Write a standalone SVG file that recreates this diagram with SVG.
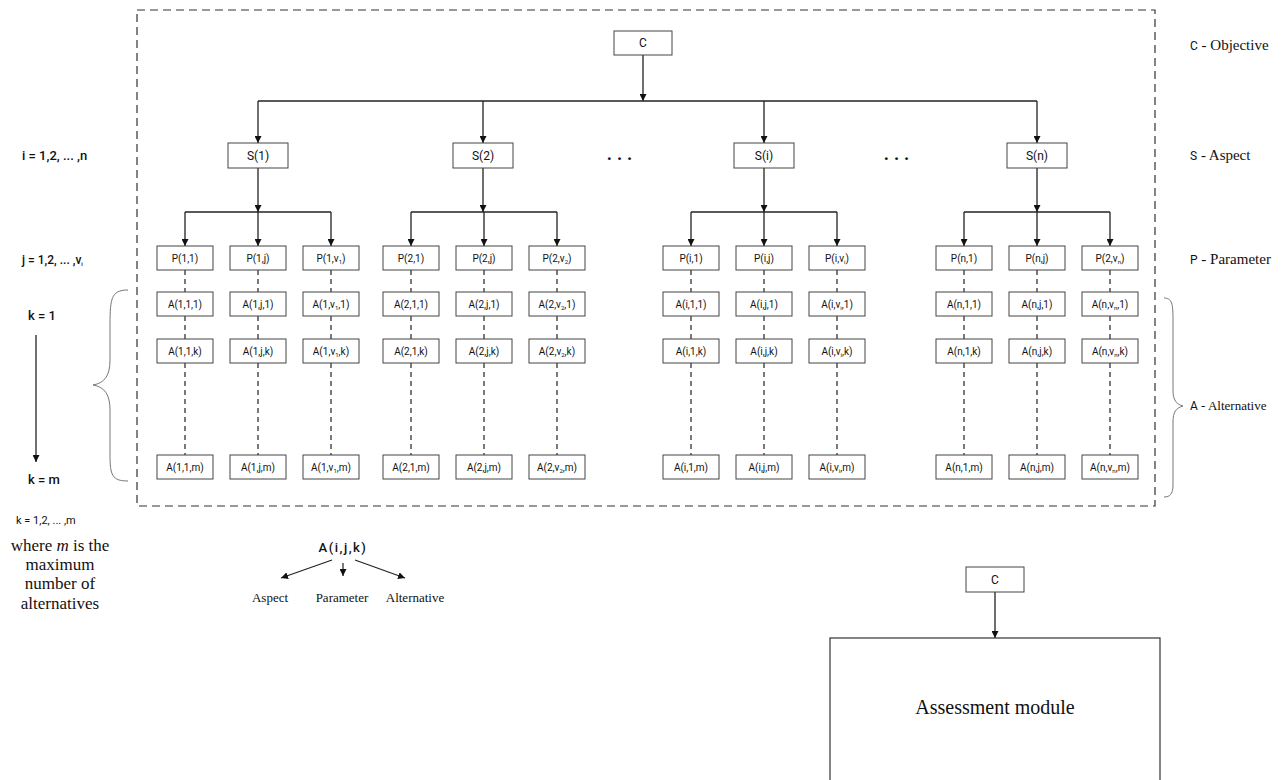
<svg xmlns="http://www.w3.org/2000/svg" width="1285" height="780" viewBox="0 0 1285 780">
<defs>
<marker id="ah" viewBox="0 0 10 10" refX="10" refY="5" markerWidth="7" markerHeight="7" markerUnits="userSpaceOnUse" orient="auto">
<path d="M0,0 L10,5 L0,10 z" fill="#111"/>
</marker>
<style>
.box{fill:#fff;stroke:#444;stroke-width:1}
.bt{font-family:Roboto,"DejaVu Sans",sans-serif;font-size:10px;fill:#111;text-anchor:middle}
.st{font-family:Roboto,"DejaVu Sans",sans-serif;font-size:12px;fill:#111;text-anchor:middle}
.ln{stroke:#222;stroke-width:1.3;fill:none}
.arr{stroke:#222;stroke-width:1.3;fill:none;marker-end:url(#ah)}
.dl{stroke:#222;stroke-width:1.2;stroke-dasharray:5,4;fill:none}
.sf{font-family:"Liberation Serif","Times New Roman",serif;fill:#111}
.sn{font-family:Roboto,"DejaVu Sans",sans-serif;fill:#111}
.sub{font-size:6px}
</style>
</defs>
<rect width="1285" height="780" fill="#fff"/>
<rect x="137" y="10" width="1018" height="496" fill="none" stroke="#333" stroke-width="1.2" stroke-dasharray="8,5"/>

<g id="connectors">
<line class="arr" x1="643" y1="55" x2="643" y2="101"/>
<line class="ln" x1="258" y1="101" x2="1037" y2="101"/>
<line class="arr" x1="258" y1="101" x2="258" y2="143"/>
<line class="arr" x1="483" y1="101" x2="483" y2="143"/>
<line class="arr" x1="764" y1="101" x2="764" y2="143"/>
<line class="arr" x1="1037" y1="101" x2="1037" y2="143"/>
<line class="arr" x1="258" y1="168" x2="258" y2="212"/>
<line class="arr" x1="483" y1="168" x2="483" y2="212"/>
<line class="arr" x1="764" y1="168" x2="764" y2="212"/>
<line class="arr" x1="1037" y1="168" x2="1037" y2="212"/>
<line class="ln" x1="185" y1="212" x2="331" y2="212"/>
<line class="ln" x1="411" y1="212" x2="557" y2="212"/>
<line class="ln" x1="691" y1="212" x2="837" y2="212"/>
<line class="ln" x1="964" y1="212" x2="1110" y2="212"/>
<g>
<line class="arr" x1="185" y1="212" x2="185" y2="246"/><line class="arr" x1="258" y1="212" x2="258" y2="246"/><line class="arr" x1="331" y1="212" x2="331" y2="246"/>
<line class="arr" x1="411" y1="212" x2="411" y2="246"/><line class="arr" x1="484" y1="212" x2="484" y2="246"/><line class="arr" x1="557" y1="212" x2="557" y2="246"/>
<line class="arr" x1="691" y1="212" x2="691" y2="246"/><line class="arr" x1="764" y1="212" x2="764" y2="246"/><line class="arr" x1="837" y1="212" x2="837" y2="246"/>
<line class="arr" x1="964" y1="212" x2="964" y2="246"/><line class="arr" x1="1037" y1="212" x2="1037" y2="246"/><line class="arr" x1="1110" y1="212" x2="1110" y2="246"/>
</g>
<g>
<path class="dl" d="M185,270V292M185,316V339M185,363V455"/>
<path class="dl" d="M258,270V292M258,316V339M258,363V455"/>
<path class="dl" d="M331,270V292M331,316V339M331,363V455"/>
<path class="dl" d="M411,270V292M411,316V339M411,363V455"/>
<path class="dl" d="M484,270V292M484,316V339M484,363V455"/>
<path class="dl" d="M557,270V292M557,316V339M557,363V455"/>
<path class="dl" d="M691,270V292M691,316V339M691,363V455"/>
<path class="dl" d="M764,270V292M764,316V339M764,363V455"/>
<path class="dl" d="M837,270V292M837,316V339M837,363V455"/>
<path class="dl" d="M964,270V292M964,316V339M964,363V455"/>
<path class="dl" d="M1037,270V292M1037,316V339M1037,363V455"/>
<path class="dl" d="M1110,270V292M1110,316V339M1110,363V455"/>
</g>
<line class="arr" x1="995" y1="592" x2="995" y2="638"/>
<line x1="36" y1="335" x2="36" y2="462" stroke="#111" stroke-width="1.2" marker-end="url(#ah)"/>
<line x1="332" y1="560" x2="281" y2="578" stroke="#222" stroke-width="1.2" marker-end="url(#ah)"/>
<line x1="343" y1="563" x2="343" y2="576" stroke="#222" stroke-width="1.2" marker-end="url(#ah)"/>
<line x1="355" y1="560" x2="405" y2="578" stroke="#222" stroke-width="1.2" marker-end="url(#ah)"/>
</g>

<g id="C"><rect class="box" x="614" y="31" width="58" height="24"/><text class="st" x="643" y="47">C</text></g>

<g id="S1"><rect class="box" x="228" y="143" width="60" height="25"/><text class="st" x="258" y="160">S(1)</text></g>
<g id="S2"><rect class="box" x="453" y="143" width="60" height="25"/><text class="st" x="483" y="160">S(2)</text></g>
<g id="Si"><rect class="box" x="734" y="143" width="60" height="25"/><text class="st" x="764" y="160">S(i)</text></g>
<g id="Sn"><rect class="box" x="1007" y="143" width="60" height="25"/><text class="st" x="1037" y="160">S(n)</text></g>
<text class="sn" x="622" y="160" font-size="18" font-weight="bold" text-anchor="middle" letter-spacing="5">...</text>
<text class="sn" x="899" y="160" font-size="18" font-weight="bold" text-anchor="middle" letter-spacing="5">...</text>

<!-- group 1 -->
<g id="P11"><rect class="box" x="157" y="246" width="56" height="24"/><text class="bt" x="185" y="262">P(1,1)</text></g>
<g id="P1j"><rect class="box" x="230" y="246" width="56" height="24"/><text class="bt" x="258" y="262">P(1,j)</text></g>
<g id="P1v"><rect class="box" x="303" y="246" width="56" height="24"/><text class="bt" x="331" y="262">P(1,v<tspan class="sub" dy="2">1</tspan><tspan dy="-2">)</tspan></text></g>
<g id="A111"><rect class="box" x="157" y="292" width="56" height="24"/><text class="bt" x="185" y="308">A(1,1,1)</text></g>
<g id="A1j1"><rect class="box" x="230" y="292" width="56" height="24"/><text class="bt" x="258" y="308">A(1,j,1)</text></g>
<g id="A1v1"><rect class="box" x="303" y="292" width="56" height="24"/><text class="bt" x="331" y="308">A(1,v<tspan class="sub" dy="2">1</tspan><tspan dy="-2">,1)</tspan></text></g>
<g id="A11k"><rect class="box" x="157" y="339" width="56" height="24"/><text class="bt" x="185" y="355">A(1,1,k)</text></g>
<g id="A1jk"><rect class="box" x="230" y="339" width="56" height="24"/><text class="bt" x="258" y="355">A(1,j,k)</text></g>
<g id="A1vk"><rect class="box" x="303" y="339" width="56" height="24"/><text class="bt" x="331" y="355">A(1,v<tspan class="sub" dy="2">1</tspan><tspan dy="-2">,k)</tspan></text></g>
<g id="A11m"><rect class="box" x="157" y="455" width="56" height="24"/><text class="bt" x="185" y="471">A(1,1,m)</text></g>
<g id="A1jm"><rect class="box" x="230" y="455" width="56" height="24"/><text class="bt" x="258" y="471">A(1,j,m)</text></g>
<g id="A1vm"><rect class="box" x="303" y="455" width="56" height="24"/><text class="bt" x="331" y="471">A(1,v<tspan class="sub" dy="2">1</tspan><tspan dy="-2">,m)</tspan></text></g>

<!-- group 2 -->
<g id="P21"><rect class="box" x="383" y="246" width="56" height="24"/><text class="bt" x="411" y="262">P(2,1)</text></g>
<g id="P2j"><rect class="box" x="456" y="246" width="56" height="24"/><text class="bt" x="484" y="262">P(2,j)</text></g>
<g id="P2v"><rect class="box" x="529" y="246" width="56" height="24"/><text class="bt" x="557" y="262">P(2,v<tspan class="sub" dy="2">2</tspan><tspan dy="-2">)</tspan></text></g>
<g id="A211"><rect class="box" x="383" y="292" width="56" height="24"/><text class="bt" x="411" y="308">A(2,1,1)</text></g>
<g id="A2j1"><rect class="box" x="456" y="292" width="56" height="24"/><text class="bt" x="484" y="308">A(2,j,1)</text></g>
<g id="A2v1"><rect class="box" x="529" y="292" width="56" height="24"/><text class="bt" x="557" y="308">A(2,v<tspan class="sub" dy="2">2</tspan><tspan dy="-2">,1)</tspan></text></g>
<g id="A21k"><rect class="box" x="383" y="339" width="56" height="24"/><text class="bt" x="411" y="355">A(2,1,k)</text></g>
<g id="A2jk"><rect class="box" x="456" y="339" width="56" height="24"/><text class="bt" x="484" y="355">A(2,j,k)</text></g>
<g id="A2vk"><rect class="box" x="529" y="339" width="56" height="24"/><text class="bt" x="557" y="355">A(2,v<tspan class="sub" dy="2">2</tspan><tspan dy="-2">,k)</tspan></text></g>
<g id="A21m"><rect class="box" x="383" y="455" width="56" height="24"/><text class="bt" x="411" y="471">A(2,1,m)</text></g>
<g id="A2jm"><rect class="box" x="456" y="455" width="56" height="24"/><text class="bt" x="484" y="471">A(2,j,m)</text></g>
<g id="A2vm"><rect class="box" x="529" y="455" width="56" height="24"/><text class="bt" x="557" y="471">A(2,v<tspan class="sub" dy="2">2</tspan><tspan dy="-2">,m)</tspan></text></g>

<!-- group i -->
<g id="Pi1"><rect class="box" x="663" y="246" width="56" height="24"/><text class="bt" x="691" y="262">P(i,1)</text></g>
<g id="Pij"><rect class="box" x="736" y="246" width="56" height="24"/><text class="bt" x="764" y="262">P(i,j)</text></g>
<g id="Piv"><rect class="box" x="809" y="246" width="56" height="24"/><text class="bt" x="837" y="262">P(i,v<tspan class="sub" dy="2">i</tspan><tspan dy="-2">)</tspan></text></g>
<g id="Ai11"><rect class="box" x="663" y="292" width="56" height="24"/><text class="bt" x="691" y="308">A(i,1,1)</text></g>
<g id="Aij1"><rect class="box" x="736" y="292" width="56" height="24"/><text class="bt" x="764" y="308">A(i,j,1)</text></g>
<g id="Aiv1"><rect class="box" x="809" y="292" width="56" height="24"/><text class="bt" x="837" y="308">A(i,v<tspan class="sub" dy="2">i</tspan><tspan dy="-2">,1)</tspan></text></g>
<g id="Ai1k"><rect class="box" x="663" y="339" width="56" height="24"/><text class="bt" x="691" y="355">A(i,1,k)</text></g>
<g id="Aijk"><rect class="box" x="736" y="339" width="56" height="24"/><text class="bt" x="764" y="355">A(i,j,k)</text></g>
<g id="Aivk"><rect class="box" x="809" y="339" width="56" height="24"/><text class="bt" x="837" y="355">A(i,v<tspan class="sub" dy="2">i</tspan><tspan dy="-2">,k)</tspan></text></g>
<g id="Ai1m"><rect class="box" x="663" y="455" width="56" height="24"/><text class="bt" x="691" y="471">A(i,1,m)</text></g>
<g id="Aijm"><rect class="box" x="736" y="455" width="56" height="24"/><text class="bt" x="764" y="471">A(i,j,m)</text></g>
<g id="Aivm"><rect class="box" x="809" y="455" width="56" height="24"/><text class="bt" x="837" y="471">A(i,v<tspan class="sub" dy="2">i</tspan><tspan dy="-2">,m)</tspan></text></g>

<!-- group n -->
<g id="Pn1"><rect class="box" x="936" y="246" width="56" height="24"/><text class="bt" x="964" y="262">P(n,1)</text></g>
<g id="Pnj"><rect class="box" x="1009" y="246" width="56" height="24"/><text class="bt" x="1037" y="262">P(n,j)</text></g>
<g id="Pnv"><rect class="box" x="1082" y="246" width="56" height="24"/><text class="bt" x="1110" y="262">P(2,v<tspan class="sub" dy="2">n</tspan><tspan dy="-2">)</tspan></text></g>
<g id="An11"><rect class="box" x="936" y="292" width="56" height="24"/><text class="bt" x="964" y="308">A(n,1,1)</text></g>
<g id="Anj1"><rect class="box" x="1009" y="292" width="56" height="24"/><text class="bt" x="1037" y="308">A(n,j,1)</text></g>
<g id="Anv1"><rect class="box" x="1082" y="292" width="56" height="24"/><text class="bt" x="1110" y="308">A(n,v<tspan class="sub" dy="2">n</tspan><tspan dy="-2">,1)</tspan></text></g>
<g id="An1k"><rect class="box" x="936" y="339" width="56" height="24"/><text class="bt" x="964" y="355">A(n,1,k)</text></g>
<g id="Anjk"><rect class="box" x="1009" y="339" width="56" height="24"/><text class="bt" x="1037" y="355">A(n,j,k)</text></g>
<g id="Anvk"><rect class="box" x="1082" y="339" width="56" height="24"/><text class="bt" x="1110" y="355">A(n,v<tspan class="sub" dy="2">n</tspan><tspan dy="-2">,k)</tspan></text></g>
<g id="An1m"><rect class="box" x="936" y="455" width="56" height="24"/><text class="bt" x="964" y="471">A(n,1,m)</text></g>
<g id="Anjm"><rect class="box" x="1009" y="455" width="56" height="24"/><text class="bt" x="1037" y="471">A(n,j,m)</text></g>
<g id="Anvm"><rect class="box" x="1082" y="455" width="56" height="24"/><text class="bt" x="1110" y="471">A(n,v<tspan class="sub" dy="2">n</tspan><tspan dy="-2">,m)</tspan></text></g>

<!-- left labels -->
<g id="left-labels">
<text class="sn" x="22" y="160" font-size="13" font-weight="500">i = 1,2, ... ,n</text>
<text class="sn" x="22" y="264" font-size="12" font-weight="500">j = 1,2, ... ,v<tspan font-size="6" dy="2">i</tspan></text>
<text class="sn" x="28" y="320" font-size="13" font-weight="500">k = 1</text>
<text class="sn" x="28" y="484" font-size="13" font-weight="500">k = m</text>
<text class="sn" x="16" y="524" font-size="11">k = 1,2, ... ,m</text>
<text class="sf" font-size="17" text-anchor="middle"><tspan x="60" y="551">where <tspan font-style="italic">m</tspan> is the</tspan><tspan x="60" y="570">maximum</tspan><tspan x="60" y="589">number of</tspan><tspan x="60" y="609">alternatives</tspan></text>
<path d="M128,290 C110,290 110,300 110,330 L110,360 C110,375 105,383 93,385 C105,387 110,395 110,410 L110,455 C110,475 112,481 128,481" fill="none" stroke="#777" stroke-width="1"/>
</g>

<!-- right labels -->
<g id="right-labels">
<text x="1190" y="50" font-size="15"><tspan class="sn" font-size="12">C</tspan><tspan class="sf"> - Objective</tspan></text>
<text x="1190" y="160" font-size="15"><tspan class="sn" font-size="12">S</tspan><tspan class="sf"> -  Aspect</tspan></text>
<text x="1190" y="264" font-size="15"><tspan class="sn" font-size="12">P</tspan><tspan class="sf"> - Parameter</tspan></text>
<text x="1190" y="410" font-size="13"><tspan class="sn" font-size="12">A</tspan><tspan class="sf"> - Alternative</tspan></text>
<path d="M1164,298 C1172,298 1173,304 1173,320 L1173,390 C1173,400 1176,404 1183,406 C1176,408 1173,412 1173,422 L1173,485 C1173,494 1170,497 1164,497" fill="none" stroke="#777" stroke-width="1"/>
</g>

<!-- legend -->
<g id="legend">
<text class="sn" x="343" y="552" font-size="13" font-weight="500" text-anchor="middle" letter-spacing="1.5">A(i,j,k)</text>
<text class="sf" x="270" y="602" font-size="13" text-anchor="middle">Aspect</text>
<text class="sf" x="342" y="602" font-size="13" text-anchor="middle">Parameter</text>
<text class="sf" x="415" y="602" font-size="13" text-anchor="middle">Alternative</text>
</g>

<g id="C2"><rect class="box" x="966" y="567" width="58" height="25"/><text class="st" x="995" y="584">C</text></g>
<g id="assessment"><rect x="830" y="638" width="330" height="150" fill="#fff" stroke="#333" stroke-width="1.2"/><text class="sf" x="995" y="714" font-size="20" text-anchor="middle">Assessment module</text></g>
</svg>
